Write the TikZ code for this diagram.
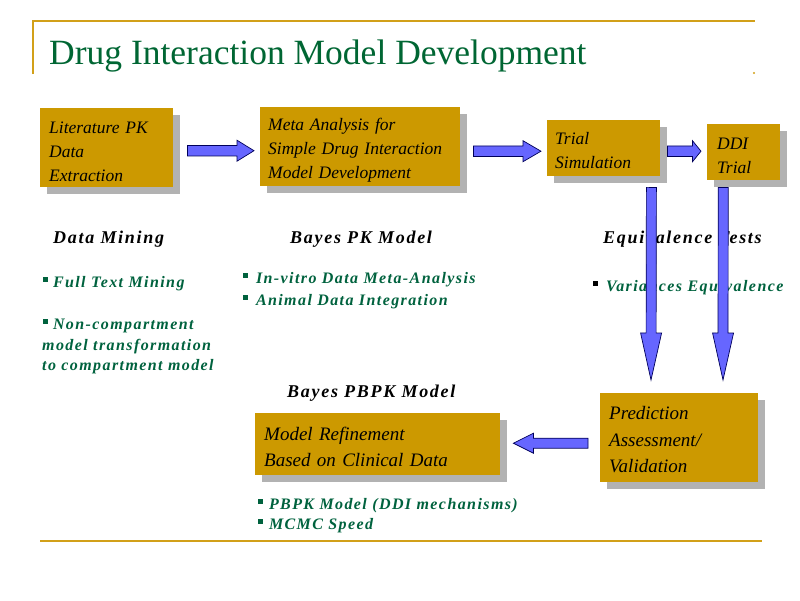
\documentclass[tikz,border=0pt]{standalone}
\usepackage{fontspec}
\setmainfont{Liberation Serif}
\newfontfamily\greenfont[LetterSpace=8.8]{Liberation Serif}
\newfontfamily\headfont[LetterSpace=9.5]{Liberation Serif}
\usetikzlibrary{calc,shadows}
\definecolor{boxgold}{RGB}{204,153,0}
\definecolor{linegold}{RGB}{210,160,25}
\definecolor{shadowgray}{RGB}{178,178,178}
\definecolor{titlegreen}{RGB}{0,102,51}
\definecolor{bulletgreen}{RGB}{0,98,62}
\definecolor{arrowblue}{RGB}{102,102,255}
\definecolor{arrowedge}{RGB}{0,0,90}
\newcommand{\boxfontA}{\itshape\fontsize{17.5}{24}\selectfont}
\newcommand{\boxfontB}{\itshape\fontsize{19}{26.5}\selectfont}
\newcommand{\gbul}{\rule[5.5pt]{4.8pt}{4.8pt}}
\newcommand{\lowr}{\rule{0pt}{19pt}}
\newcommand{\blockarr}[5]{% #1 head length, #2 shaft half width, #3 head half width, #4 from, #5 to
  \coordinate (bah) at ($(#5)!#1!(#4)$);
  \draw[blockarrow] ($(#4)!#2!90:(#5)$) -- ($(bah)!#2!-90:(#4)$) -- ($(bah)!#3!-90:(#4)$) -- (#5)
    -- ($(bah)!#3!90:(#4)$) -- ($(bah)!#2!90:(#4)$) -- ($(#4)!#2!-90:(#5)$) -- cycle;}
\tikzset{
  frameline/.style={draw=linegold, line width=1.6pt},
  box/.style={fill=boxgold, anchor=north west, align=left, inner ysep=0pt, text=black,
    drop shadow={shadow xshift=7pt, shadow yshift=-7pt, opacity=1, fill=shadowgray}},
  heading/.style={anchor=base west, inner sep=0pt, text=black,
    font=\headfont\bfseries\itshape\fontsize{18}{21}\selectfont},
  greenline/.style={anchor=base west, inner sep=0pt, text=bulletgreen,
    font=\greenfont\bfseries\itshape\fontsize{16}{20}\selectfont},
  blockarrow/.style={fill=arrowblue, draw=arrowedge, line width=0.7pt, line join=miter}
}
\begin{document}
\begin{tikzpicture}[x=1pt,y=-1pt]
\useasboundingbox (0,0) rectangle (800,600);
% frame
\draw[frameline] (33,74) -- (33,21) -- (755,21);
\draw[frameline] (40,541) -- (762,541);
\fill[linegold] (754,73) circle (1.1);
% title
\node[anchor=base west, inner sep=0pt, text=titlegreen, font=\fontsize{35.5}{40}\selectfont] (title) at (49,64) {Drug Interaction Model Development};
% boxes
\node[box, minimum width=133pt, minimum height=79pt, inner xsep=9pt, text width=115pt, font=\boxfontA] (lit) at (40,108) {\lowr Literature PK\\Data\\Extraction};
\node[box, minimum width=200pt, minimum height=79pt, inner xsep=8pt, text width=184pt, font=\boxfontA] (meta) at (260,107) {\lowr Meta Analysis for\\Simple Drug Interaction\\Model Development};
\node[box, minimum width=113pt, minimum height=56pt, inner xsep=8pt, text width=97pt, font=\boxfontA] (trial) at (547,120) {\rule{0pt}{16pt}Trial\\Simulation};
\node[box, minimum width=73pt, minimum height=56pt, inner xsep=10pt, text width=53pt, font=\boxfontA] (ddi) at (707,124) {\lowr DDI\\Trial};
\node[box, minimum width=158pt, minimum height=89pt, inner xsep=9pt, text width=140pt, font=\boxfontB] (pred) at (600,393) {\rule{0pt}{17pt}Prediction\\Assessment/\\Validation};
\node[box, minimum width=245pt, minimum height=62pt, inner xsep=9pt, text width=227pt, font=\boxfontB] (refine) at (255,413) {\lowr Model Refinement\\Based on Clinical Data};
% headings
\node[heading] (hmining) at (53,243) {Data Mining};
\node[heading] (hpk) at (290,243) {Bayes PK Model};
\node[heading] (hequiv) at (603,243) {Equivalence Tests};
\node[heading] (hpbpk) at (287,397) {Bayes PBPK Model};
% bullet texts
\node[greenline] (t1) at (43,287) {\gbul\hspace{5pt}Full Text Mining};
\node[greenline] (t2a) at (43,329) {\gbul\hspace{5pt}Non-compartment};
\node[greenline] (t2b) at (42,350) {model transformation};
\node[greenline] (t2c) at (42,370) {to compartment model};
\node[greenline] (t3) at (243,283) {\gbul\hspace{8pt}In-vitro Data Meta-Analysis};
\node[greenline] (t4) at (243,305) {\gbul\hspace{8pt}Animal Data Integration};
\node[greenline] (t5) at (593,291) {\textcolor{black}{\gbul}\hspace{8pt}Variances Equivalence};
\node[greenline] (t6) at (258,509) {\gbul\hspace{6pt}PBPK Model (DDI mechanisms)};
\node[greenline] (t7) at (258,529) {\gbul\hspace{6pt}MCMC Speed};
% arrow end points
\coordinate (a1s) at ([shift={(14,3)}]lit.east);
\coordinate (a1e) at ([shift={(-6,4)}]meta.west);
\coordinate (a2s) at ([shift={(13,4.5)}]meta.east);
\coordinate (a2e) at ([shift={(-6,3)}]trial.west);
\coordinate (a3s) at ([shift={(7,3)}]trial.east);
\coordinate (a3e) at ([shift={(-6,-1)}]ddi.west);
\coordinate (d1s) at ([shift={(-9,11)}]trial.south east);
\coordinate (d1e) at ([shift={(51,-13)}]pred.north west);
\coordinate (d2s) at ([shift={(-20.5,7)}]ddi.south);
\coordinate (d2e) at ([shift={(123,-13)}]pred.north west);
\coordinate (l1s) at ([shift={(-12,5.5)}]pred.west);
\coordinate (l1e) at ([shift={(13,-1)}]refine.east);
% arrows
\blockarr{17pt}{5.25pt}{10.5pt}{a1s}{a1e}
\blockarr{18pt}{5.25pt}{10.5pt}{a2s}{a2e}
\blockarr{8.5pt}{5.25pt}{10.5pt}{a3s}{a3e}
\blockarr{47pt}{5pt}{10.5pt}{d1s}{d1e}
\blockarr{47pt}{5pt}{10.5pt}{d2s}{d2e}
\blockarr{20pt}{5pt}{10pt}{l1s}{l1e}
\end{tikzpicture}
\end{document}
